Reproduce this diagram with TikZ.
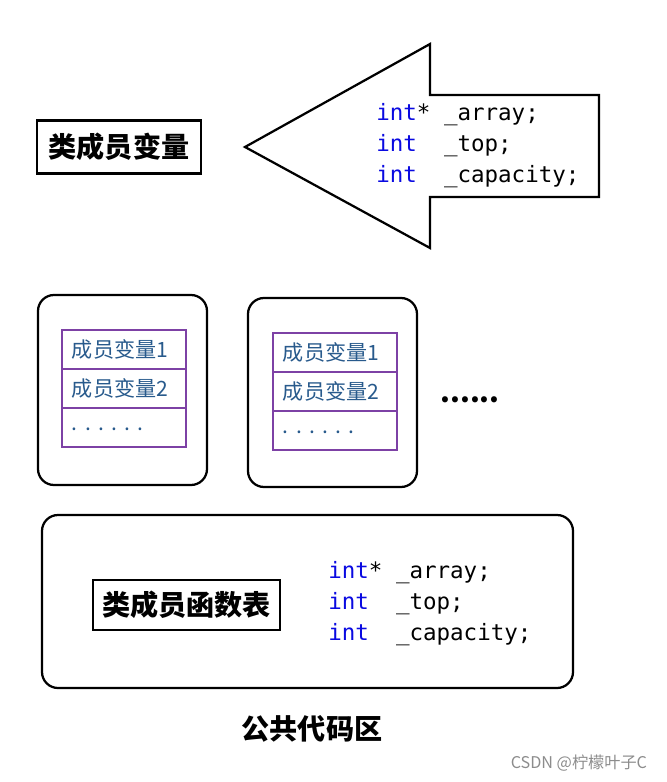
\documentclass[tikz,border=0pt]{standalone}
\usepackage{xcolor}
\usepackage{fontspec}
\usepackage{tikz}
\usetikzlibrary{positioning}
\setmonofont{DejaVu Sans Mono}
\newfontfamily\cjk{Noto Sans CJK SC}
\definecolor{kwblue}{RGB}{10,10,225}
\definecolor{rowpurple}{RGB}{125,65,165}
\definecolor{rowtext}{RGB}{40,90,140}
\newcommand{\kw}[1]{\textcolor{kwblue}{#1}}
\newcommand{\rowdots}{\raisebox{-4pt}{.\hspace{0.18cm}.\hspace{0.18cm}.\hspace{0.18cm}.\hspace{0.18cm}.\hspace{0.18cm}.}}

\begin{document}
\begin{tikzpicture}[x=0.025cm,y=-0.025cm,line join=miter,
    label box/.style={draw,line width=1.6pt,inner sep=0pt,font=\cjk\bfseries\fontsize{20}{24}\selectfont},
    round box/.style={draw,line width=1.6pt,rounded corners=0.4cm},
    row/.style={draw=rowpurple,line width=1.6pt,outer sep=0pt,inner sep=0pt,minimum width=3.1cm,minimum height=0.975cm,text width=2.6cm,align=left,text=rowtext,font=\cjk\fontsize{15}{18}\selectfont},
    code/.style={align=left,inner sep=0pt,font=\ttfamily\fontsize{16}{22}\selectfont}]
    \useasboundingbox (0,0) rectangle (666,782);
    % top: member variables
    \node[label box,minimum width=4.1cm,minimum height=1.33cm] (vars) at (119,147) {类成员变量};
    \draw[line width=1.6pt] (245,147) -- (430,44) -- (430,95) -- (599,95) -- (599,197) -- (430,197) -- (430,248) -- cycle;
    \node[code,anchor=west] (code1) at (376,146) {\kw{int}*~\_array;\\\kw{int}~~\_top;\\\kw{int}~~\_capacity;};
    % objects
    \draw[round box] (38,295) rectangle (207,485);
    \draw[round box] (248,298) rectangle (417,487);
    \node[row] (r11) at (124,349.5) {成员变量1};
    \node[row] (r12) [below=0pt of r11] {成员变量2};
    \node[row] (r13) [below=0pt of r12] {\rowdots};
    \node[row] (r21) at (335,352.5) {成员变量1};
    \node[row] (r22) [below=0pt of r21] {成员变量2};
    \node[row] (r23) [below=0pt of r22] {\rowdots};
    \node[font=\cjk\bfseries\fontsize{20}{24}\selectfont] (more) at (470,400) {......};
    % bottom: shared code
    \draw[round box] (42,515) rectangle (573,688);
    \node[label box,minimum width=4.675cm,minimum height=1.25cm] (funcs) at (186.5,605) {类成员函数表};
    \node[code,anchor=west] (code2) at (328,604) {\kw{int}*~\_array;\\\kw{int}~~\_top;\\\kw{int}~~\_capacity;};
    \node[font=\cjk\bfseries\fontsize{20}{24}\selectfont] (area) at (312,729) {公共代码区};
    \node[anchor=east,text=black!45,font=\cjk\fontsize{11.5}{14}\selectfont] (mark) at (652,763) {CSDN @柠檬叶子C};
\end{tikzpicture}
\end{document}
